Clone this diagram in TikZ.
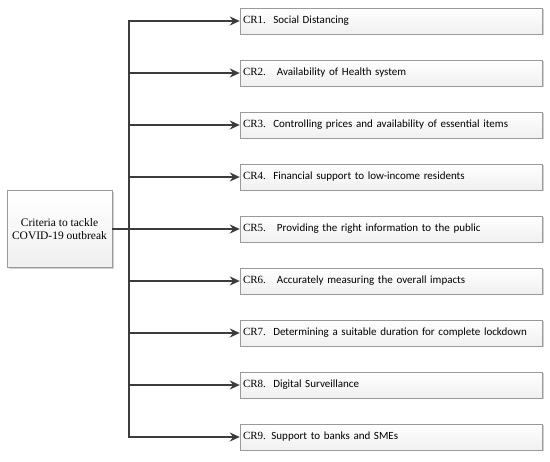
\documentclass[tikz,border=0pt]{standalone}
\usepackage{fontspec}
\setmainfont{Liberation Serif}
\newfontfamily\crfont{Carlito}
\usetikzlibrary{positioning,shadows,arrows.meta}

\definecolor{linegray}{HTML}{3C3C3C}
\definecolor{boxgray}{HTML}{9A9A9A}

\tikzstyle{criterion} = [rectangle, minimum width=302pt, minimum height=26pt, text width=296pt, align=left, inner xsep=3pt, draw=boxgray, top color=white, bottom color=gray!12, drop shadow={shadow xshift=1.5pt, shadow yshift=-1.5pt, fill=gray!45, opacity=0.8}, font=\fontsize{11}{13}\selectfont]
\tikzstyle{goal} = [rectangle, minimum width=105pt, minimum height=77pt, align=center, draw=boxgray, top color=white, bottom color=gray!12, drop shadow={shadow xshift=1.5pt, shadow yshift=-1.5pt, fill=gray!45, opacity=0.8}, font=\fontsize{11.5}{13.5}\selectfont]
\tikzstyle{arrow} = [line width=2pt, draw=linegray, -{Stealth[length=10pt,width=9pt]}]

\begin{document}
\begin{tikzpicture}[x=1pt, y=-1pt, node distance=52pt]
		\useasboundingbox (0,0) rectangle (550,462);
		\node (cr1) [criterion] at (391,21) {CR1.\ \ {\crfont Social Distancing}};
		\node (cr2) [criterion, below of=cr1] {CR2.\ \ \ {\crfont Availability of Health system}};
		\node (cr3) [criterion, below of=cr2] {CR3.\ \ {\crfont Controlling prices and availability of essential items}};
		\node (cr4) [criterion, below of=cr3] {CR4.\ \ {\crfont Financial support to low-income residents}};
		\node (cr5) [criterion, below of=cr4] {CR5.\ \ \ {\crfont Providing the right information to the public}};
		\node (cr6) [criterion, below of=cr5] {CR6.\ \ \ {\crfont Accurately measuring the overall impacts}};
		\node (cr7) [criterion, below of=cr6] {CR7.\ \ {\crfont Determining a suitable duration for complete lockdown}};
		\node (cr8) [criterion, below of=cr7] {CR8.\ \ {\crfont Digital Surveillance}};
		\node (cr9) [criterion, below of=cr8] {CR9. {\crfont Support to banks and SMEs}};
		\node (goal) [goal] at (59.5,229) {Criteria to tackle\\COVID-19 outbreak};
		\coordinate (hub) at (129,229);

		\draw [line width=2pt, draw=linegray] (goal) -- (hub);
		\draw [arrow] (hub) |- (cr1);
		\draw [arrow] (hub) |- (cr2);
		\draw [arrow] (hub) |- (cr3);
		\draw [arrow] (hub) |- (cr4);
		\draw [arrow] (hub) -- (cr5);
		\draw [arrow] (hub) |- (cr6);
		\draw [arrow] (hub) |- (cr7);
		\draw [arrow] (hub) |- (cr8);
		\draw [arrow] (hub) |- (cr9);
	\end{tikzpicture}
\end{document}
